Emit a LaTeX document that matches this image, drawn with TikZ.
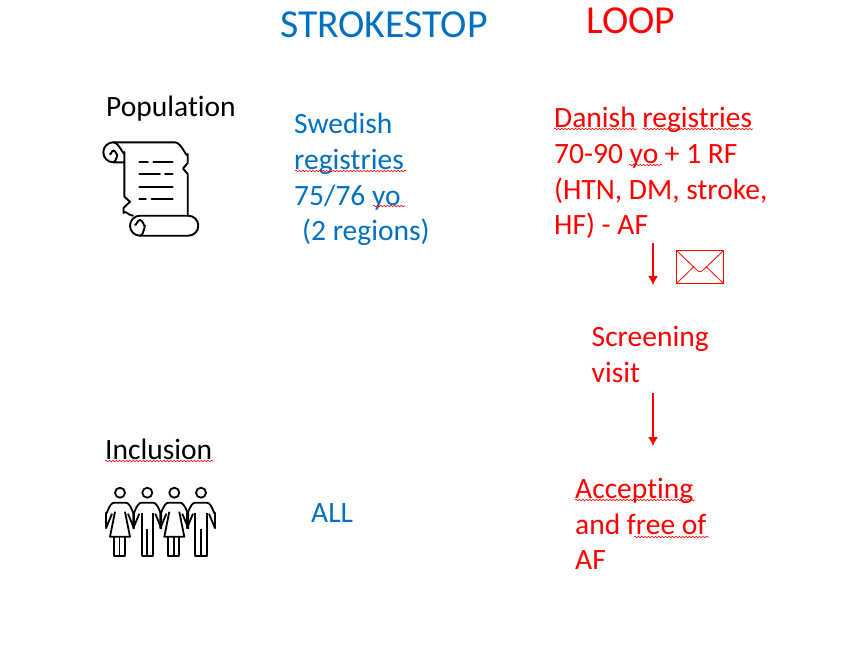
\documentclass[tikz,border=0pt]{standalone}
\usepackage{fontspec}
\setmainfont[Ligatures=NoCommon]{Carlito}
\usepackage{xcolor}
\usetikzlibrary{arrows.meta, decorations.pathmorphing}
\definecolor{titleblue}{HTML}{0070C0}
\tikzset{
	txt/.style={anchor=north west, inner sep=0pt, align=left, font=\fontsize{29.5}{35.7}\selectfont},
	titletxt/.style={anchor=base west, inner sep=0pt, font=\fontsize{39.7}{44}\selectfont},
	squiggle/.style={red, line width=.6pt, decorate, decoration={snake, amplitude=.7pt, segment length=3.4pt}},
	icon/.style={line width=1.9pt, line join=round, line cap=round},
	person/.style={line width=1.8pt, line join=round},
	flow/.style={red, line width=1.3pt, -{Latex[length=9pt, width=10pt]}},
}
\newcommand{\armsandhead}{
	\draw (0,0) circle (5);
	\draw (8,21) -- (14,35.5) -- (14,20) to[out=270, in=0] (6,10) -- (-6,10) to[out=180, in=270] (-14,20) -- (-14,35.5) -- (-8,21);
}
\begin{document}
\begin{tikzpicture}[x=1pt, y=-1pt]
	\useasboundingbox (0,0) rectangle (842,649);
	% titles
	\node[titletxt, titleblue] (strokestop) at (280,37) {STROKESTOP};
	\node[titletxt, red] (loop) at (586,33) {LOOP};
	% left column
	\node[txt] (population) at (106,96) {Population};
	\node[txt] (inclusion) at (105,439) {Inclusion};
	% blue column
	\node[txt, titleblue] (swedish) at (294,113) {Swedish\\registries\\75/76 yo\\\hspace*{8pt}(2 regions)};
	\node[txt, titleblue] (all) at (311,503) {ALL};
	% red column
	\node[txt, red] (danish) at (554,107) {Danish registries\\70-90 yo + 1 RF\\(HTN, DM, stroke,\\HF) - AF};
	\node[txt, red] (screening) at (591.5,326) {Screening\\visit};
	\node[txt, red] (accepting) at (575,478) {Accepting\\and free of\\AF};
	% spelling marks
	\draw[squiggle] (295,171) -- (406,171);
	\draw[squiggle] (373,206) -- (405,206);
	\draw[squiggle] (554,129) -- (637,129);
	\draw[squiggle] (643,129) -- (753,129);
	\draw[squiggle] (629,165) -- (662,165);
	\draw[squiggle] (105,461) -- (213,461);
	\draw[squiggle] (575,500) -- (695,500);
	\draw[squiggle] (634,537) -- (709,537);
	% arrows
	\coordinate (arrowa) at (653,243);
	\coordinate (arrowb) at (653,285);
	\coordinate (arrowc) at (653,393);
	\coordinate (arrowd) at (653,446);
	\draw[flow] (arrowa) -- (arrowb);
	\draw[flow] (arrowc) -- (arrowd);
	% envelope
	\draw[red, line width=1.1pt] (676.7,250.7) rectangle (723.3,283.3);
	\draw[red, line width=.8pt, rounded corners=3pt] (676.7,250.7) -- (700,273) -- (723.3,250.7);
	\draw[red, line width=.8pt] (676.7,283.3) -- (694,266.5);
	\draw[red, line width=.8pt] (723.3,283.3) -- (706,266.5);
	% scroll
	\begin{scope}[icon]
		\draw (124.3,162.3) -- (113.3,162.3) arc (90:270:10) -- (175,142.3)
			to[out=0, in=270] (187.7,154) -- (187.7,163) -- (183,168.5) -- (187.7,174) -- (187.7,215.7);
		\draw (113.3,142.3) to[out=0, in=270] (124.3,152) -- (124.3,196.7) -- (130,201.7) -- (123.5,208) -- (123.5,213) to[out=90, in=180] (133,215.7);
		\draw (113.3,162.3) to[out=0, in=90] (117.5,155) to[out=270, in=0] (113.5,150.5) to[out=180, in=280] (110,154);
		\draw (140,235.7) to[out=0, in=90] (145,226) to[out=270, in=0] (140,220) to[out=180, in=280] (135,224.5);
		\draw (140,235.7) arc (90:270:10) -- (188.3,215.7) arc (-90:90:10) -- (140,235.7);
		\draw (139.3,162.3) -- (148,162.3) (153.3,162.3) -- (172.7,162.3);
		\draw (139.3,174.3) -- (160,174.3) (165,174.3) -- (172.7,174.3);
		\draw (139.3,186.7) -- (172.7,186.7);
		\draw (139.3,199.3) -- (146,199.3) (151.7,199.3) -- (172.7,199.3);
	\end{scope}
	% people
	\foreach \px in {120,174.3} {
		\begin{scope}[shift={(\px,492.7)}, person]
			\armsandhead
			\draw (-5,19) -- (-10,44) -- (10,44) -- (5,19);
			\draw (-6,44) -- (-6,63.3) -- (5,63.3) -- (5,44) (-.5,44) -- (-.5,63.3);
		\end{scope}
	}
	\foreach \px in {147.3,201} {
		\begin{scope}[shift={(\px,492.7)}, person]
			\armsandhead
			\draw (-5.7,20) -- (-5.7,63.3) -- (5.7,63.3) -- (5.7,20) (0,36.7) -- (0,63.3);
		\end{scope}
	}
\end{tikzpicture}
\end{document}
